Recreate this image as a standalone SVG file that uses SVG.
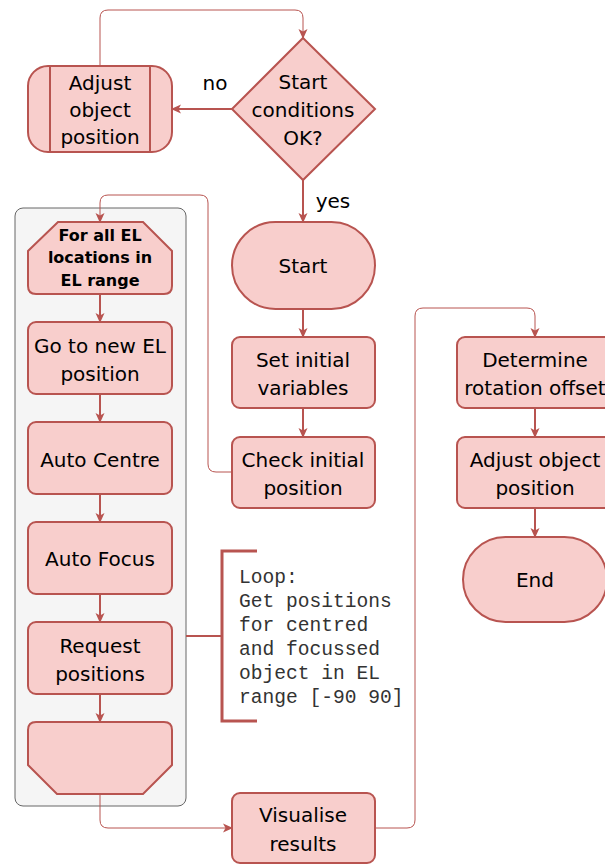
<svg xmlns="http://www.w3.org/2000/svg" width="605" height="864" viewBox="0 0 605 864">
<defs>
<marker id="arr" viewBox="0 0 10 10" refX="9" refY="5" markerWidth="10" markerHeight="10" markerUnits="userSpaceOnUse" orient="auto">
<path d="M0,0.5 L10,5 L0,9.5 L2.5,5 Z" fill="#b85450"/>
</marker>
<style>
.n{fill:#f8cecc;stroke:#b85450;stroke-width:2}
.t{font-family:"DejaVu Sans",Verdana,sans-serif;font-size:20px;fill:#000;text-anchor:middle}
.b{font-family:"DejaVu Sans",Verdana,sans-serif;font-size:16px;font-weight:bold;fill:#000;text-anchor:middle}
.m{font-family:"Liberation Mono","Courier New",monospace;font-size:19.6px;fill:#333}
.c{fill:none;stroke:#b85450;stroke-width:1}
.c2{fill:none;stroke:#b85450;stroke-width:2}
</style>
</defs>
<rect id="container" x="15" y="208" width="171" height="598" rx="8" fill="#f5f5f5" stroke="#666666" stroke-width="1"/>

<g id="connectors">
<path class="c" d="M100,66 V18 Q100,10 108,10 H295 Q303,10 303,18 V38" marker-end="url(#arr)"/>
<path class="c2" d="M232,109 H172" marker-end="url(#arr)"/>
<path class="c2" d="M303,180 V222" marker-end="url(#arr)"/>
<path class="c2" d="M303,309 V337" marker-end="url(#arr)"/>
<path class="c2" d="M303,408 V437" marker-end="url(#arr)"/>
<path class="c" d="M232,472 H216 Q208,472 208,464 V203 Q208,195 200,195 H108 Q100,195 100,203 V222" marker-end="url(#arr)"/>
<path class="c2" d="M100,294 V322" marker-end="url(#arr)"/>
<path class="c2" d="M100,394 V422" marker-end="url(#arr)"/>
<path class="c2" d="M100,494 V522" marker-end="url(#arr)"/>
<path class="c2" d="M100,594 V622" marker-end="url(#arr)"/>
<path class="c2" d="M100,694 V722" marker-end="url(#arr)"/>
<path class="c" d="M100,794 V820 Q100,828 108,828 H232" marker-end="url(#arr)"/>
<path class="c" d="M375,828 H407 Q415,828 415,820 V316 Q415,308 423,308 H527 Q535,308 535,316 V337" marker-end="url(#arr)"/>
<path class="c2" d="M535,408 V437" marker-end="url(#arr)"/>
<path class="c2" d="M535,508 V537" marker-end="url(#arr)"/>
<path class="c2" d="M186,636 H222"/>
</g>

<g id="lbl-no"><text class="t" x="215" y="90">no</text></g>
<g id="lbl-yes"><text class="t" x="333" y="208">yes</text></g>

<g id="start-cond">
<path class="n" d="M303,38 L375,109 L303,180 L232,109 Z"/>
<text class="t" x="303" y="89">Start</text>
<text class="t" x="303" y="117">conditions</text>
<text class="t" x="303" y="145">OK?</text>
</g>

<g id="adjust-sub">
<rect class="n" x="28" y="66" width="144" height="86" rx="20"/>
<path class="n" d="M50,66 V152 M150,66 V152"/>
<text class="t" x="100" y="90">Adjust</text>
<text class="t" x="100" y="117">object</text>
<text class="t" x="100" y="144">position</text>
</g>

<g id="start">
<rect class="n" x="232" y="222" width="143" height="87" rx="43.5"/>
<text class="t" x="303" y="273">Start</text>
</g>

<g id="set-init">
<rect class="n" x="232" y="337" width="143" height="71" rx="8"/>
<text class="t" x="303" y="367">Set initial</text>
<text class="t" x="303" y="395">variables</text>
</g>

<g id="check-init">
<rect class="n" x="232" y="437" width="143" height="71" rx="8"/>
<text class="t" x="303" y="467">Check initial</text>
<text class="t" x="303" y="495">position</text>
</g>

<g id="loop-start">
<path class="n" d="M58,222 H143 L172,251 V286 Q172,294 164,294 H36 Q28,294 28,286 V251 Z"/>
<text class="b" x="100" y="241">For all EL</text>
<text class="b" x="100" y="263">locations in</text>
<text class="b" x="100" y="286">EL range</text>
</g>

<g id="goto-el">
<rect class="n" x="28" y="322" width="144" height="72" rx="8"/>
<text class="t" x="100" y="353">Go to new EL</text>
<text class="t" x="100" y="381">position</text>
</g>

<g id="auto-centre">
<rect class="n" x="28" y="422" width="144" height="72" rx="8"/>
<text class="t" x="100" y="467">Auto Centre</text>
</g>

<g id="auto-focus">
<rect class="n" x="28" y="522" width="144" height="72" rx="8"/>
<text class="t" x="100" y="566">Auto Focus</text>
</g>

<g id="request-pos">
<rect class="n" x="28" y="622" width="144" height="72" rx="8"/>
<text class="t" x="100" y="653">Request</text>
<text class="t" x="100" y="681">positions</text>
</g>

<g id="loop-end">
<path class="n" d="M36,722 H164 Q172,722 172,730 V765 L143,794 H57 L28,765 V730 Q28,722 36,722 Z"/>
</g>

<g id="annotation">
<path d="M257,551 H222 V721 H257" fill="none" stroke="#b85450" stroke-width="3"/>
<text class="m" x="239" y="583">Loop:</text>
<text class="m" x="239" y="607">Get positions</text>
<text class="m" x="239" y="631">for centred</text>
<text class="m" x="239" y="655">and focussed</text>
<text class="m" x="239" y="679">object in EL</text>
<text class="m" x="239" y="703">range [-90 90]</text>
</g>

<g id="visualise">
<rect class="n" x="232" y="793" width="143" height="70" rx="8"/>
<text class="t" x="303" y="822">Visualise</text>
<text class="t" x="303" y="851">results</text>
</g>

<g id="determine">
<rect class="n" x="457" y="337" width="156" height="71" rx="8"/>
<text class="t" x="535" y="367">Determine</text>
<text class="t" x="535" y="395">rotation offset</text>
</g>

<g id="adjust-obj">
<rect class="n" x="457" y="437" width="156" height="71" rx="8"/>
<text class="t" x="535" y="467">Adjust object</text>
<text class="t" x="535" y="495">position</text>
</g>

<g id="end">
<rect class="n" x="463" y="537" width="144" height="85" rx="42.5"/>
<text class="t" x="535" y="587">End</text>
</g>
</svg>
